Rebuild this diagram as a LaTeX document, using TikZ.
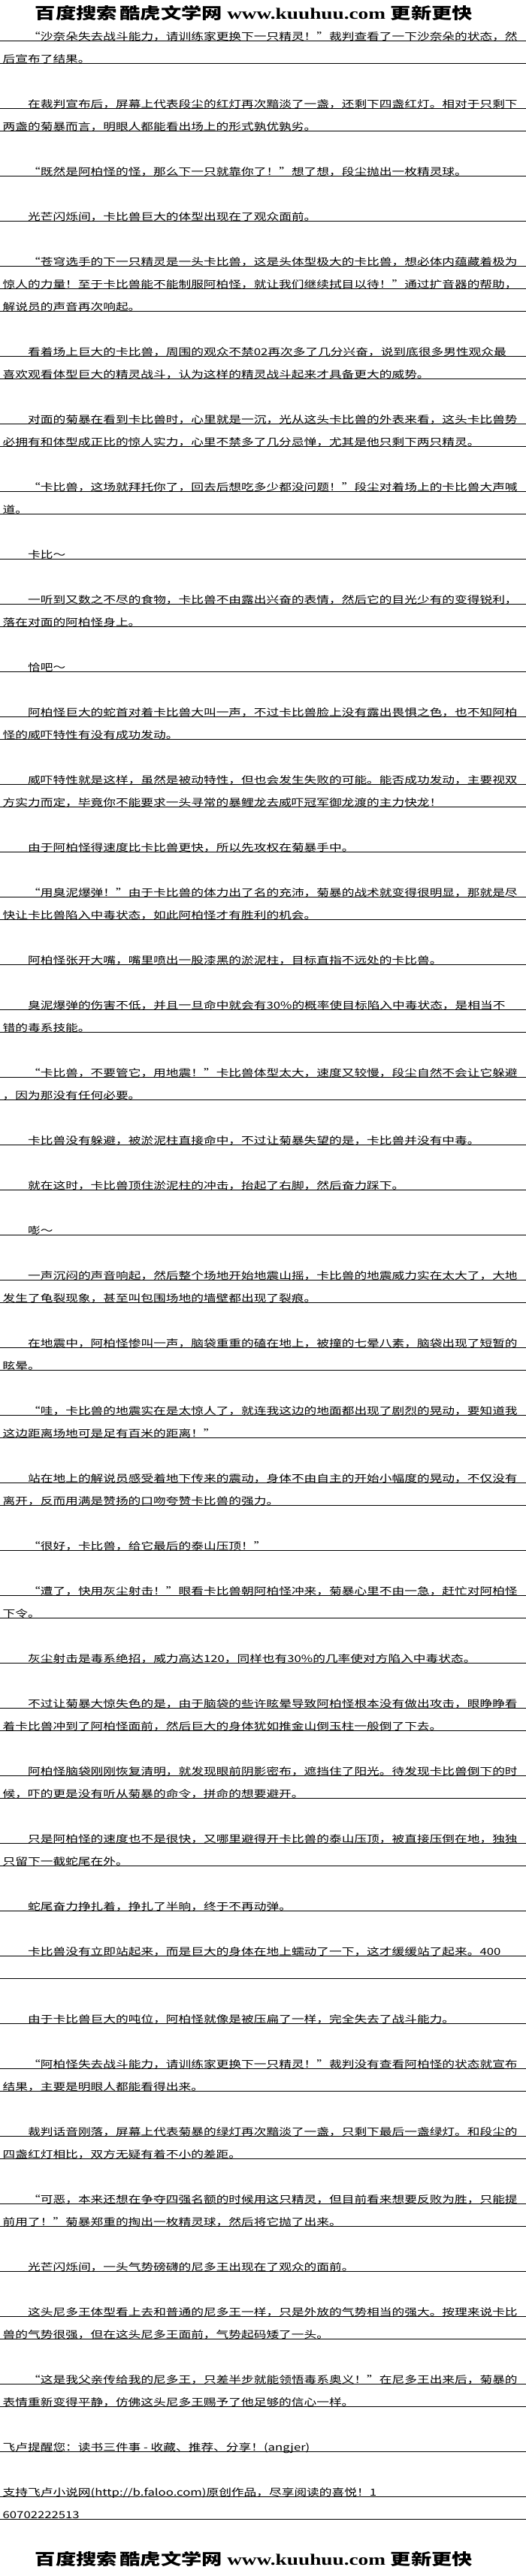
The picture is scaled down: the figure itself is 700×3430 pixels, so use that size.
\documentclass[tikz,border=0pt]{standalone}
\usepackage{fontspec}
\newfontfamily\cjk[FakeStretch=1.285]{Noto Sans CJK SC}
\newfontfamily\headcjk[FakeStretch=1.3]{Noto Sans CJK SC}
\newfontfamily\headurl[FakeStretch=1.3]{Liberation Serif}
\newcommand\lqt{\makebox[16.7pt][c]{“}}
\newcommand\rqt{\makebox[16.7pt][l]{”}}
\begin{document}
\begin{tikzpicture}[x=1pt, y=-1pt,
  row/.style={anchor=base west, inner sep=0pt, font=\cjk\fontsize{13}{13}\selectfont},
  rule/.style={line width=1pt},
  banner/.style={inner sep=0pt, font=\fontsize{21}{21}\selectfont}]
\fill[white] (0,0) rectangle (700,3430);
\useasboundingbox (0,0) rectangle (700,3430);
\node[banner] (top) at (338,17) {\headcjk\bfseries 百度搜索\,酷虎文学网 \headurl\bfseries www.kuuhuu.com \headcjk\bfseries 更新更快};
\foreach \k/\x/\t in {
  0/37/{\lqt 沙奈朵失去战斗能力，请训练家更换下一只精灵！\rqt 裁判查看了一下沙奈朵的状态，然},
  1/3.5/{后宣布了结果。},
  3/37/{在裁判宣布后，屏幕上代表段尘的红灯再次黯淡了一盏，还剩下四盏红灯。相对于只剩下},
  4/3.5/{两盏的菊暴而言，明眼人都能看出场上的形式孰优孰劣。},
  6/37/{\lqt 既然是阿柏怪的怪，那么下一只就靠你了！\rqt 想了想，段尘抛出一枚精灵球。},
  8/37/{光芒闪烁间，卡比兽巨大的体型出现在了观众面前。},
  10/37/{\lqt 苍穹选手的下一只精灵是一头卡比兽，这是头体型极大的卡比兽，想必体内蕴藏着极为},
  11/3.5/{惊人的力量！至于卡比兽能不能制服阿柏怪，就让我们继续拭目以待！\rqt 通过扩音器的帮助，},
  12/3.5/{解说员的声音再次响起。},
  14/37/{看着场上巨大的卡比兽，周围的观众不禁02再次多了几分兴奋，说到底很多男性观众最},
  15/3.5/{喜欢观看体型巨大的精灵战斗，认为这样的精灵战斗起来才具备更大的威势。},
  17/37/{对面的菊暴在看到卡比兽时，心里就是一沉，光从这头卡比兽的外表来看，这头卡比兽势},
  18/3.5/{必拥有和体型成正比的惊人实力，心里不禁多了几分忌惮，尤其是他只剩下两只精灵。},
  20/37/{\lqt 卡比兽，这场就拜托你了，回去后想吃多少都没问题！\rqt 段尘对着场上的卡比兽大声喊},
  21/3.5/{道。},
  23/37/{卡比～},
  25/37/{一听到又数之不尽的食物，卡比兽不由露出兴奋的表情，然后它的目光少有的变得锐利，},
  26/3.5/{落在对面的阿柏怪身上。},
  28/37/{恰吧～},
  30/37/{阿柏怪巨大的蛇首对着卡比兽大叫一声，不过卡比兽脸上没有露出畏惧之色，也不知阿柏},
  31/3.5/{怪的威吓特性有没有成功发动。},
  33/37/{威吓特性就是这样，虽然是被动特性，但也会发生失败的可能。能否成功发动，主要视双},
  34/3.5/{方实力而定，毕竟你不能要求一头寻常的暴鲤龙去威吓冠军御龙渡的主力快龙！},
  36/37/{由于阿柏怪得速度比卡比兽更快，所以先攻权在菊暴手中。},
  38/37/{\lqt 用臭泥爆弹！\rqt 由于卡比兽的体力出了名的充沛，菊暴的战术就变得很明显，那就是尽},
  39/3.5/{快让卡比兽陷入中毒状态，如此阿柏怪才有胜利的机会。},
  41/37/{阿柏怪张开大嘴，嘴里喷出一股漆黑的淤泥柱，目标直指不远处的卡比兽。},
  43/37/{臭泥爆弹的伤害不低，并且一旦命中就会有30\%的概率使目标陷入中毒状态，是相当不},
  44/3.5/{错的毒系技能。},
  46/37/{\lqt 卡比兽，不要管它，用地震！\rqt 卡比兽体型太大，速度又较慢，段尘自然不会让它躲避},
  47/3.5/{，因为那没有任何必要。},
  49/37/{卡比兽没有躲避，被淤泥柱直接命中，不过让菊暴失望的是，卡比兽并没有中毒。},
  51/37/{就在这时，卡比兽顶住淤泥柱的冲击，抬起了右脚，然后奋力踩下。},
  53/37/{嘭～},
  55/37/{一声沉闷的声音响起，然后整个场地开始地震山摇，卡比兽的地震威力实在太大了，大地},
  56/3.5/{发生了龟裂现象，甚至叫包围场地的墙壁都出现了裂痕。},
  58/37/{在地震中，阿柏怪惨叫一声，脑袋重重的磕在地上，被撞的七晕八素，脑袋出现了短暂的},
  59/3.5/{眩晕。},
  61/37/{\lqt 哇，卡比兽的地震实在是太惊人了，就连我这边的地面都出现了剧烈的晃动，要知道我},
  62/3.5/{这边距离场地可是足有百米的距离！\rqt},
  64/37/{站在地上的解说员感受着地下传来的震动，身体不由自主的开始小幅度的晃动，不仅没有},
  65/3.5/{离开，反而用满是赞扬的口吻夸赞卡比兽的强力。},
  67/37/{\lqt 很好，卡比兽，给它最后的泰山压顶！\rqt},
  69/37/{\lqt 遭了，快用灰尘射击！\rqt 眼看卡比兽朝阿柏怪冲来，菊暴心里不由一急，赶忙对阿柏怪},
  70/3.5/{下令。},
  72/37/{灰尘射击是毒系绝招，威力高达120，同样也有30\%的几率使对方陷入中毒状态。},
  74/37/{不过让菊暴大惊失色的是，由于脑袋的些许眩晕导致阿柏怪根本没有做出攻击，眼睁睁看},
  75/3.5/{着卡比兽冲到了阿柏怪面前，然后巨大的身体犹如推金山倒玉柱一般倒了下去。},
  77/37/{阿柏怪脑袋刚刚恢复清明，就发现眼前阴影密布，遮挡住了阳光。待发现卡比兽倒下的时},
  78/3.5/{候，吓的更是没有听从菊暴的命令，拼命的想要避开。},
  80/37/{只是阿柏怪的速度也不是很快，又哪里避得开卡比兽的泰山压顶，被直接压倒在地，独独},
  81/3.5/{只留下一截蛇尾在外。},
  83/37/{蛇尾奋力挣扎着，挣扎了半晌，终于不再动弹。},
  85/37/{卡比兽没有立即站起来，而是巨大的身体在地上蠕动了一下，这才缓缓站了起来。400},
  88/37/{由于卡比兽巨大的吨位，阿柏怪就像是被压扁了一样，完全失去了战斗能力。},
  90/37/{\lqt 阿柏怪失去战斗能力，请训练家更换下一只精灵！\rqt 裁判没有查看阿柏怪的状态就宣布},
  91/3.5/{结果，主要是明眼人都能看得出来。},
  93/37/{裁判话音刚落，屏幕上代表菊暴的绿灯再次黯淡了一盏，只剩下最后一盏绿灯。和段尘的},
  94/3.5/{四盏红灯相比，双方无疑有着不小的差距。},
  96/37/{\lqt 可恶，本来还想在争夺四强名额的时候用这只精灵，但目前看来想要反败为胜，只能提},
  97/3.5/{前用了！\rqt 菊暴郑重的掏出一枚精灵球，然后将它抛了出来。},
  99/37/{光芒闪烁间，一头气势磅礴的尼多王出现在了观众的面前。},
  101/37/{这头尼多王体型看上去和普通的尼多王一样，只是外放的气势相当的强大。按理来说卡比},
  102/3.5/{兽的气势很强，但在这头尼多王面前，气势起码矮了一头。},
  104/37/{\lqt 这是我父亲传给我的尼多王，只差半步就能领悟毒系奥义！\rqt 在尼多王出来后，菊暴的},
  105/3.5/{表情重新变得平静，仿佛这头尼多王赐予了他足够的信心一样。},
  107/3.5/{飞卢提醒您：读书三件事 - 收藏、推荐、分享！(angjer)},
  109/3.5/{支持飞卢小说网(http://b.faloo.com)原创作品，尽享阅读的喜悦！1},
  110/3.5/{60702222513}}{
  \node[row] (l\k) at (\x,53.5+30*\k) {\t};
  \draw[rule] (0,54+30*\k) -- (700,54+30*\k);
}
\draw[rule] (0,2634) -- (700,2634);
\node[banner] (bottom) at (338,3407) {\headcjk\bfseries 百度搜索\,酷虎文学网 \headurl\bfseries www.kuuhuu.com \headcjk\bfseries 更新更快};
    \end{tikzpicture}
\end{document}
